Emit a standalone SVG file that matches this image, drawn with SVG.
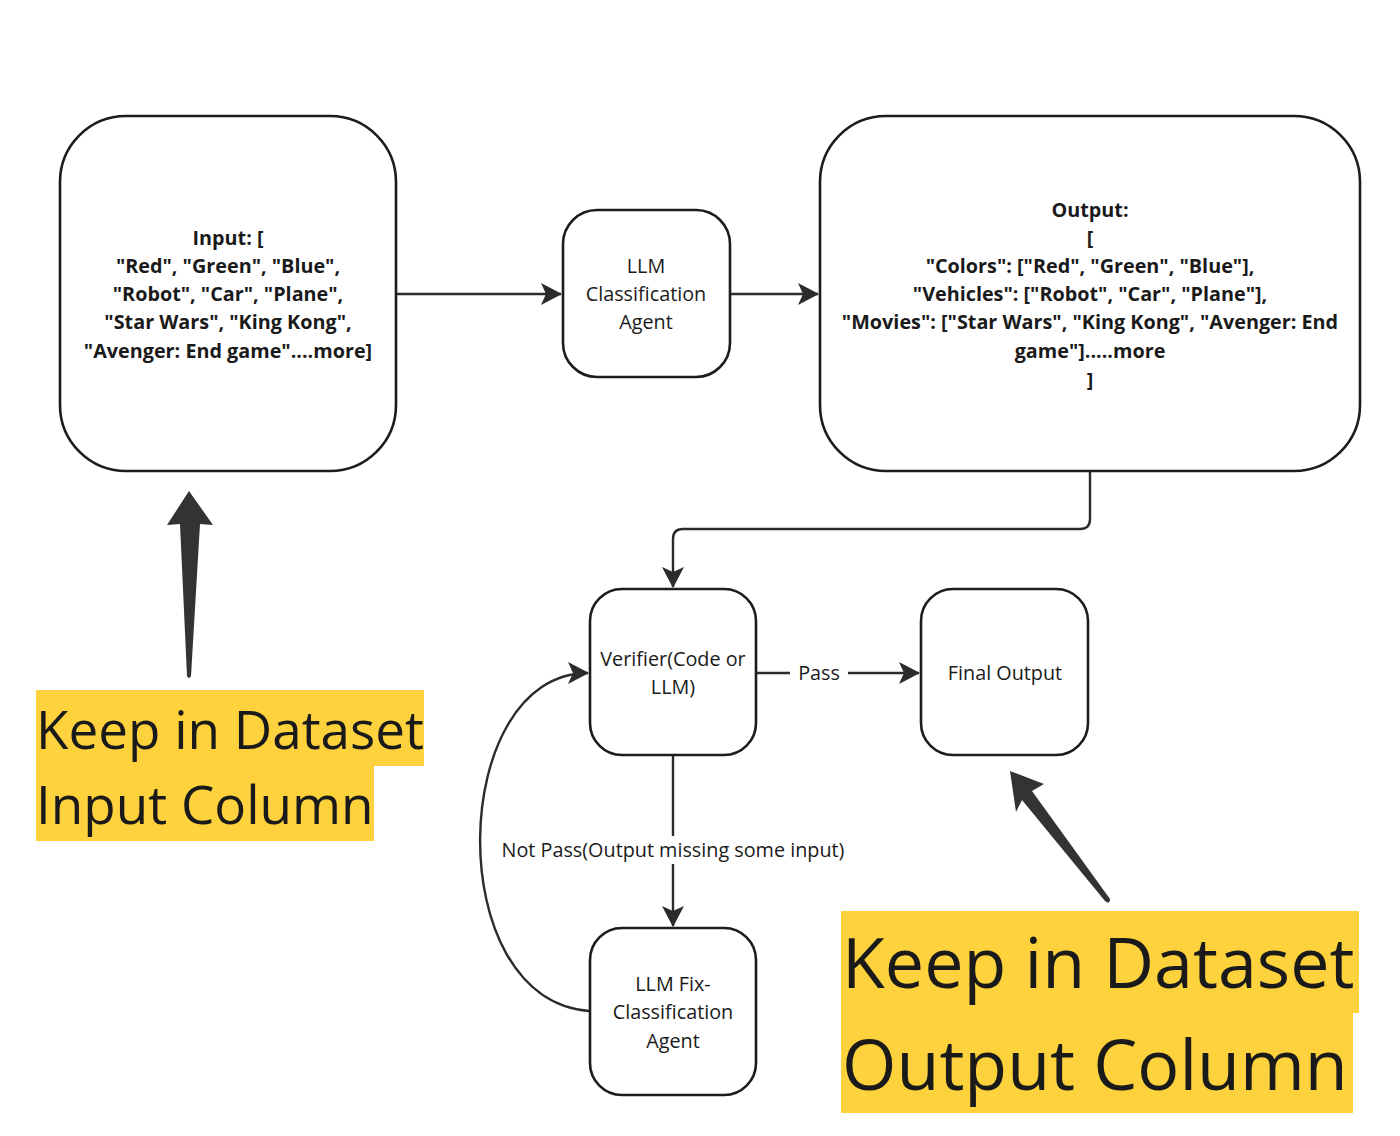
<svg xmlns="http://www.w3.org/2000/svg" width="1400" height="1136" viewBox="0 0 1400 1136">
<defs>
<style>
.box{fill:#fff;stroke:#1c1c1c;stroke-width:2.6}
.con{fill:none;stroke:#2b2b2b;stroke-width:2.4}
.b{font-family:"Open Sans","Liberation Sans",sans-serif;font-weight:bold;font-size:19.8px;fill:#1a1a1a;text-anchor:middle}
.r{font-family:"Open Sans","Liberation Sans",sans-serif;font-size:19.8px;fill:#1a1a1a;text-anchor:middle}
.lbl{font-family:"Open Sans","Liberation Sans",sans-serif;font-size:19.8px;fill:#1a1a1a;text-anchor:middle}
.big{font-family:"Open Sans","Liberation Sans",sans-serif;fill:#1a1a1a}
.hl{fill:#fdd23c}
</style>
<marker id="ah" markerUnits="userSpaceOnUse" markerWidth="22" markerHeight="24" refX="20" refY="12" orient="auto">
<path d="M0,1 L21,12 L0,23 L5,12 z" fill="#2b2b2b"/>
</marker>
</defs>
<rect width="1400" height="1136" fill="#fff"/>

<g id="connectors">
<path class="con" d="M397,294 H561" marker-end="url(#ah)"/>
<path class="con" d="M731,294 H818" marker-end="url(#ah)"/>
<path class="con" d="M1090,472 V519 Q1090,529 1080,529 H683 Q673,529 673,539 V587" marker-end="url(#ah)"/>
<path class="con" d="M757,673 H790"/>
<path class="con" d="M848,673 H919" marker-end="url(#ah)"/>
<path class="con" d="M673,756 V836"/>
<path class="con" d="M673,864 V926" marker-end="url(#ah)"/>
<path class="con" d="M589,1011 C440,1000 448,673 588,673" marker-end="url(#ah)"/>
<text class="lbl" x="819" y="680">Pass</text>
<text class="lbl" x="673" y="857">Not Pass(Output missing some input)</text>
</g>

<g id="node-input">
<rect class="box" x="60" y="116" width="336" height="355" rx="66"/>
<text class="b" x="228" y="245">Input: [</text>
<text class="b" x="228" y="273">"Red", "Green", "Blue",</text>
<text class="b" x="228" y="301">"Robot", "Car", "Plane",</text>
<text class="b" x="228" y="329">"Star Wars", "King Kong",</text>
<text class="b" x="228" y="358">"Avenger: End game"....more]</text>
</g>

<g id="node-llm">
<rect class="box" x="563" y="210" width="167" height="167" rx="34"/>
<text class="r" x="646" y="273">LLM</text>
<text class="r" x="646" y="301">Classification</text>
<text class="r" x="646" y="329">Agent</text>
</g>

<g id="node-output">
<rect class="box" x="820" y="116" width="540" height="355" rx="66"/>
<text class="b" x="1090" y="217">Output:</text>
<text class="b" x="1090" y="245">[</text>
<text class="b" x="1090" y="273">"Colors": ["Red", "Green", "Blue"],</text>
<text class="b" x="1090" y="301">"Vehicles": ["Robot", "Car", "Plane"],</text>
<text class="b" x="1090" y="329">"Movies": ["Star Wars", "King Kong", "Avenger: End</text>
<text class="b" x="1090" y="358">game"].....more</text>
<text class="b" x="1090" y="387">]</text>
</g>

<g id="node-verifier">
<rect class="box" x="590" y="589" width="166" height="166" rx="32"/>
<text class="r" x="673" y="666">Verifier(Code or</text>
<text class="r" x="673" y="694">LLM)</text>
</g>

<g id="node-final">
<rect class="box" x="921" y="589" width="167" height="166" rx="32"/>
<text class="r" x="1005" y="680">Final Output</text>
</g>

<g id="node-fix">
<rect class="box" x="590" y="928" width="166" height="167" rx="32"/>
<text class="r" x="673" y="991">LLM Fix-</text>
<text class="r" x="673" y="1019">Classification</text>
<text class="r" x="673" y="1048">Agent</text>
</g>

<g id="note-input">
<path d="M189,491 L213,525 L200,524 L191,676 Q189,680 187,676 L180,524 L167,525 Z" fill="#333"/>
<rect class="hl" x="36" y="690" width="388" height="76"/>
<rect class="hl" x="36" y="765" width="338" height="76"/>
<text class="big" x="36" y="749" font-size="53">Keep in Dataset</text>
<text class="big" x="36" y="824" font-size="53">Input Column</text>
</g>

<g id="note-output">
<path d="M1010,771 L1044,784 L1032,791 L1110,899 Q1110,905 1105,901 L1022,800 L1016,812 Z" fill="#333"/>
<rect class="hl" x="841" y="911" width="518" height="102"/>
<rect class="hl" x="841" y="1012" width="512" height="101"/>
<text class="big" x="842" y="988" font-size="70">Keep in Dataset</text>
<text class="big" x="842" y="1090" font-size="70">Output Column</text>
</g>
</svg>
